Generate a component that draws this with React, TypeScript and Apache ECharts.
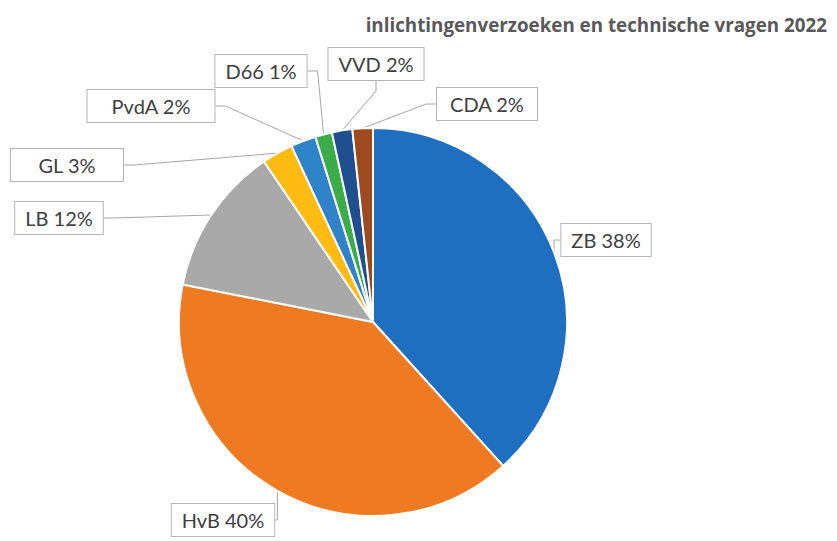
import React, { useEffect, useRef } from 'react';
import * as echarts from 'echarts';

const titleText = 'inlichtingenverzoeken en technische vragen 2022';
const categories = ['ZB', 'HvB', 'LB', 'GL', 'PvdA', 'D66', 'VVD', 'CDA'];
const shares = [38.3, 39.8, 12.4, 2.6, 2.1, 1.4, 1.7, 1.7];
const colors = ['#1f6fc0', '#f07a22', '#a9a9a9', '#ffbb12', '#2e83c9', '#3aad49', '#1f4f8e', '#9e4a1f'];

// label box centres (layout only)
const labelPos: Record<string, [number, number]> = {
  ZB: [606, 240],
  HvB: [223, 520],
  LB: [59, 218],
  GL: [67, 165],
  PvdA: [151, 106],
  D66: [261, 71],
  VVD: [376, 64],
  CDA: [487, 104],
};
const labelWidth: Record<string, number> = { GL: 92, PvdA: 107, CDA: 80 };

export default function App() {
  const ref = useRef<HTMLDivElement>(null);
  useEffect(() => {
    document.body.style.margin = '0';
    const chart = echarts.init(ref.current!, undefined, { renderer: 'svg' });
    const data = categories.map((name, i) => ({
      name,
      value: shares[i],
      itemStyle: { color: colors[i] },
      label: labelWidth[name] ? { width: labelWidth[name], overflow: 'none' } : {},
    }));
    chart.setOption({
      animation: false,
      backgroundColor: '#ffffff',
      title: {
        text: titleText,
        right: 5,
        top: 10,
        textStyle: { fontFamily: 'Open Sans', fontWeight: 'bold', fontSize: 18.8, color: '#595959' },
      },
      series: [
        {
          type: 'pie',
          center: [373, 322],
          radius: 194,
          startAngle: 90,
          clockwise: true,
          percentPrecision: 0,
          itemStyle: { borderColor: '#ffffff', borderWidth: 2 },
          label: {
            show: true,
            position: 'outside',
            formatter: '{b} {d}%',
            fontFamily: 'Lato',
            fontSize: 20,
            color: '#404040',
            backgroundColor: '#ffffff',
            borderColor: '#b5b5b5',
            borderWidth: 1,
            padding: [6, 10],
            align: 'center',
          },
          labelLine: {
            show: true,
            length: 10,
            length2: 10,
            lineStyle: { color: '#a6a6a6', width: 1 },
          },
          labelLayout: (params: any) => {
            const p = labelPos[categories[params.dataIndex]];
            return { x: p[0], y: p[1], align: 'center', verticalAlign: 'middle' };
          },
          data,
        },
      ],
    });
    return () => chart.dispose();
  }, []);
  return <div ref={ref} style={{ width: 837, height: 541 }} />;
}
